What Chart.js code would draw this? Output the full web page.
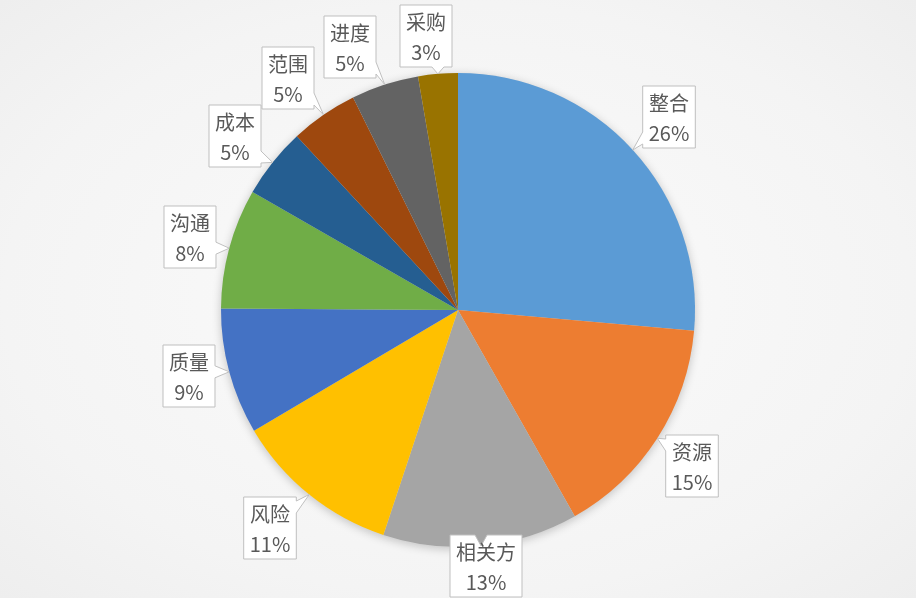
<!DOCTYPE html>
<html>
<head>
<meta charset="utf-8">
<script src="https://cdn.jsdelivr.net/npm/chart.js@4.4.1/dist/chart.umd.min.js"></script>
<style>
  html, body { margin: 0; padding: 0; }
  body {
    width: 916px; height: 598px; overflow: hidden;
    background: radial-gradient(ellipse at 50% 50%, #fbfbfb 0%, #f4f4f4 70%, #eeeeee 100%);
  }
  #wrap { position: relative; width: 916px; height: 598px; }
</style>
</head>
<body>
<div id="wrap"><canvas id="pie" width="916" height="598"></canvas></div>
<script>
  // 数据（顺时针，从 12 点方向开始），按图中扇区角度估读
  const labels = ['整合', '资源', '相关方', '风险', '质量', '沟通', '成本', '范围', '进度', '采购'];
  const values = [26.4, 15.4, 13.3, 11.4, 8.6, 8.2, 4.8, 4.6, 4.6, 2.7];
  const colors = ['#5b9bd5', '#ed7d31', '#a5a5a5', '#ffc000', '#4472c4',
                  '#70ad47', '#255e91', '#9e480e', '#636363', '#997300'];

  // 标注框的中心位置（版式，不是数据）
  const boxCenters = [
    [669, 117], [692, 466], [486, 566], [270, 528], [189, 376],
    [190, 237], [235, 136], [288, 78], [350, 47], [426, 36],
  ];

  const FONT = '"Noto Sans CJK SC", "Noto Sans", sans-serif';

  const pieShadow = {
    id: 'pieShadow',
    beforeDatasetsDraw(chart) {
      const arc = chart.getDatasetMeta(0).data[0];
      if (!arc) return;
      const ctx = chart.ctx;
      ctx.save();
      ctx.shadowColor = 'rgba(0,0,0,0.22)';
      ctx.shadowBlur = 10;
      ctx.shadowOffsetY = 2;
      ctx.fillStyle = '#d9d9d9';
      ctx.beginPath();
      ctx.arc(arc.x, arc.y, arc.outerRadius, 0, Math.PI * 2);
      ctx.fill();
      ctx.restore();
    }
  };

  const callouts = {
    id: 'callouts',
    afterDatasetsDraw(chart) {
      const ctx = chart.ctx;
      const meta = chart.getDatasetMeta(0);
      const total = values.reduce(function (a, b) { return a + b; }, 0);
      ctx.save();
      ctx.font = '20px ' + FONT;
      meta.data.forEach(function (arc, i) {
        const mid = (arc.startAngle + arc.endAngle) / 2;
        const tip = { x: arc.x + Math.cos(mid) * arc.outerRadius, y: arc.y + Math.sin(mid) * arc.outerRadius };
        const pct = Math.round(values[i] / total * 100) + '%';
        const w = Math.max(ctx.measureText(labels[i]).width, ctx.measureText(pct).width) + 12;
        const h = 62;
        const c = boxCenters[i];
        drawCallout(ctx, c[0] - w / 2, c[1] - h / 2, w, h, tip);
        ctx.fillStyle = '#595959';
        ctx.textAlign = 'center';
        ctx.textBaseline = 'middle';
        ctx.fillText(labels[i], c[0], c[1] - 14);
        ctx.fillText(pct, c[0], c[1] + 16);
      });
      ctx.restore();
    }
  };

  function drawCallout(ctx, x, y, w, h, tip) {
    const r = x + w, b = y + h;
    // 哪一边伸出尖角
    const over = {
      left: x - tip.x, right: tip.x - r, top: y - tip.y, bottom: tip.y - b,
    };
    let side = 'left', best = -Infinity;
    Object.keys(over).forEach(function (k) { if (over[k] > best) { best = over[k]; side = k; } });
    const half = 6;
    function clamp(v, lo, hi) { return Math.max(lo, Math.min(hi, v)); }
    ctx.beginPath();
    ctx.moveTo(x, y);
    if (side === 'top') {
      const m = clamp(tip.x, x + half + 4, r - half - 4);
      ctx.lineTo(m - half, y); ctx.lineTo(tip.x, tip.y); ctx.lineTo(m + half, y);
    }
    ctx.lineTo(r, y);
    if (side === 'right') {
      const m = clamp(tip.y, y + half + 4, b - half - 4);
      ctx.lineTo(r, m - half); ctx.lineTo(tip.x, tip.y); ctx.lineTo(r, m + half);
    }
    ctx.lineTo(r, b);
    if (side === 'bottom') {
      const m = clamp(tip.x, x + half + 4, r - half - 4);
      ctx.lineTo(m + half, b); ctx.lineTo(tip.x, tip.y); ctx.lineTo(m - half, b);
    }
    ctx.lineTo(x, b);
    if (side === 'left') {
      const m = clamp(tip.y, y + half + 4, b - half - 4);
      ctx.lineTo(x, m + half); ctx.lineTo(tip.x, tip.y); ctx.lineTo(x, m - half);
    }
    ctx.closePath();
    ctx.fillStyle = '#ffffff';
    ctx.fill();
    ctx.strokeStyle = '#bfbfbf';
    ctx.lineWidth = 1;
    ctx.stroke();
  }

  new Chart(document.getElementById('pie'), {
    type: 'pie',
    data: {
      labels: labels,
      datasets: [{
        data: values,
        backgroundColor: colors,
        borderWidth: 0,
      }],
    },
    options: {
      responsive: false,
      animation: false,
      layout: { padding: { left: 221, right: 221, top: 73, bottom: 51 } },
      plugins: { legend: { display: false }, tooltip: { enabled: false } },
    },
    plugins: [pieShadow, callouts],
  });
</script>
</body>
</html>
